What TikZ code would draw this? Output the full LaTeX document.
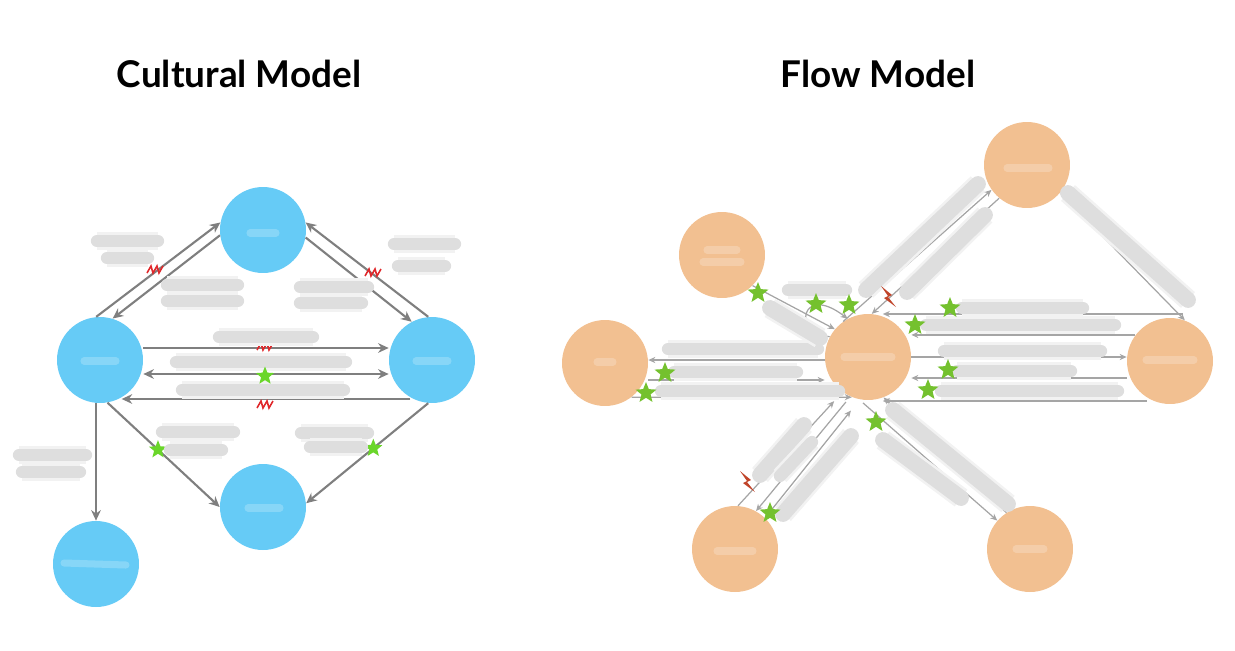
\documentclass[tikz,border=0pt]{standalone}
\usepackage{fontspec}
\setmainfont{Lato}
\usetikzlibrary{arrows.meta,shapes.geometric}
\definecolor{cblue}{HTML}{66CBF6}
\definecolor{fpeach}{HTML}{F2C091}
\definecolor{cline}{HTML}{7F7F7F}
\definecolor{fline}{HTML}{A5A5A5}
\definecolor{sgreen}{HTML}{74C12E}
\definecolor{cgreen}{HTML}{6AD62A}
\definecolor{zred}{HTML}{E0282B}
\definecolor{fbolt}{HTML}{C0442A}
\tikzset{
  cnode/.style={circle,fill=cblue,minimum size=1.72cm,inner sep=0pt},
  fnode/.style={circle,fill=fpeach,minimum size=1.72cm,inner sep=0pt},
  carrow/.style={draw=cline,line width=1.2pt,-{Stealth[length=6pt,width=5.5pt]}},
  farrow/.style={draw=fline,line width=0.7pt,-{Stealth[length=4pt,width=3.5pt]}},
  gstar/.style={star,star points=5,star point ratio=2.3,fill=sgreen,inner sep=0pt,minimum size=0.44cm},
  cstar/.style={gstar,fill=cgreen,minimum size=0.38cm},
  smudge/.style={draw=gray!26,line width=7pt,line cap=round,preaction={draw=gray!10,line width=10pt}},
  bigsmudge/.style={draw=gray!26,line width=9pt,line cap=round,preaction={draw=gray!10,line width=12pt}},
  glare/.style={draw=white,line width=4pt,line cap=round,opacity=.22},
  title/.style={font=\fontsize{21}{25}\selectfont\bfseries,anchor=base},
  zap/.pic={\draw[zred,line width=0.9pt] (-8,3) -- (-4,-4) -- (-2,3) -- (2,-4) -- (4,3) -- (8,-4);},
  bolt/.pic={\fill[fbolt] (-7,-11) -- (4,-2) -- (0,0) -- (8,10) -- (-4,1) -- (0,-1) -- cycle;}
}
\begin{document}
\begin{tikzpicture}[x=0.02cm,y=-0.02cm]
\useasboundingbox (0,0) rectangle (1235,650);

\node[title] (ctitle) at (239,87) {Cultural Model};
\node[title] (ftitle) at (878,87) {Flow Model};

\node[cnode] (ctop) at (263,230) {};
\node[cnode] (cleft) at (100,360) {};
\node[cnode] (cright) at (432,360) {};
\node[cnode] (cbottom) at (263,507) {};
\node[cnode] (cfar) at (96,564) {};

\draw[glare] (250,233) -- (276,233);
\draw[glare] (84,361) -- (116,361);
\draw[glare] (416,361) -- (448,361);
\draw[glare] (248,508) -- (280,508);
\draw[glare] (64,563) -- (126,565);

\draw[carrow] (cleft.95) -- (ctop.170);
\draw[carrow] (ctop.187) -- (cleft.73);
\draw[carrow] (cright.95) -- (ctop.10);
\draw[carrow] (ctop.350) -- (cright.118);
\draw[carrow] (cleft.east |- 0,348) -- (cright.west |- 0,348);
\draw[carrow,{Stealth[length=6pt,width=5.5pt]}-{Stealth[length=6pt,width=5.5pt]}] (cleft.east |- 0,374) -- (cright.west |- 0,374);
\draw[carrow] (cright.240 |- 0,399) -- (cleft.300 |- 0,399);
\draw[carrow] (cleft.south -| cfar.north) -- (cfar.north);
\draw[carrow] (cleft.-80) -- (cbottom.180) node[cstar,pos=.45] {};
\draw[carrow] (cright.-95) -- (cbottom.5) node[cstar,pos=.45] {};

\pic at (155,270) {zap};
\pic at (373,273) {zap};
\pic at (265,347) {zap};
\pic at (265,405) {zap};

\draw[smudge] (97,241) -- (158,241);
\draw[smudge] (107,258) -- (148,258);
\draw[smudge] (167,285) -- (238,285);
\draw[smudge] (167,301) -- (238,301);
\draw[smudge] (394,244) -- (455,244);
\draw[smudge] (398,266) -- (445,266);
\draw[smudge] (300,287) -- (368,287);
\draw[smudge] (300,303) -- (362,303);
\draw[smudge] (219,337) -- (313,337);
\draw[smudge] (176,362) -- (346,362);
\draw[smudge] (182,390) -- (344,390);
\draw[smudge] (19,455) -- (86,455);
\draw[smudge] (22,472) -- (80,472);
\draw[smudge] (162,432) -- (234,432);
\draw[smudge] (170,450) -- (222,450);
\draw[smudge] (301,433) -- (368,433);
\draw[smudge] (310,447) -- (362,447);
\node[cstar] (cmid) at (265,376) {};

\node[fnode] (ftop) at (1027,165) {};
\node[fnode] (fupper) at (722,255) {};
\node[fnode] (fleft) at (605,363) {};
\node[fnode] (fcore) at (868,357) {};
\node[fnode] (fright) at (1170,361) {};
\node[fnode] (flowl) at (735,549) {};
\node[fnode] (flowr) at (1030,549) {};
\coordinate (fin1) at (1183,314);
\coordinate (fin2) at (1147,401);

\draw[glare] (1007,168) -- (1049,168);
\draw[glare] (707,250) -- (737,250);
\draw[glare] (703,262) -- (741,262);
\draw[glare] (597,362) -- (613,362);
\draw[glare] (844,357) -- (892,357);
\draw[glare] (1146,360) -- (1194,360);
\draw[glare] (717,551) -- (753,551);
\draw[glare] (1016,549) -- (1044,549);

\draw[farrow] (fcore.west |- 0,360) -- (fleft.east |- 0,360);
\draw[farrow] (fleft.east |- 0,380) -- (fcore.west |- 0,380);
\draw[farrow] (fleft.-52) -- (fcore.-112);
\draw[farrow] (fupper.-45) -- (fcore.140);
\draw[farrow] (fcore.152) .. controls (792,336) and (800,282) .. (fcore.118);
\draw[farrow] (fcore.125) -- (ftop.215);
\draw[farrow] (ftop.230) -- (fcore.85);
\draw[farrow] (ftop.-40) -- (fright.70);
\draw[farrow] (fin1) -- (fcore.70 |- fin1);
\draw[farrow] (fright.143) -- (fcore.east |- fright.143);
\draw[farrow] (fcore.east) -- (fright.west |- fcore.east);
\draw[farrow] (fright.west |- 0,378) -- (fcore.east |- 0,378);
\draw[farrow] (fin2) -- (fcore.-70 |- fin2);
\draw[farrow,shorten >=7pt] (flowl.86) -- (fcore.234);
\draw[farrow,shorten <=4pt] (fcore.246) -- (flowl.61);
\draw[farrow,shorten >=8pt] (flowl.46) -- (fcore.259);
\draw[farrow,shorten <=3pt] (fcore.258) -- (flowr.139);
\draw[farrow] (flowr.123) -- (fcore.-69);

\draw[smudge] (668,349) -- (818,349);
\draw[smudge] (674,372) -- (797,372);
\draw[smudge] (661,391) -- (839,391);
\draw[bigsmudge] (770,308) -- (820,338);
\draw[smudge] (788,290) -- (846,290);
\draw[bigsmudge] (978,184) -- (866,290);
\draw[bigsmudge] (985,215) -- (907,292);
\draw[bigsmudge] (1068,193) -- (1188,300);
\draw[smudge] (962,308) -- (1083,308);
\draw[smudge] (926,325) -- (1115,325);
\draw[smudge] (944,351) -- (1101,351);
\draw[smudge] (957,371) -- (1071,371);
\draw[smudge] (941,391) -- (1118,391);
\draw[bigsmudge] (760,475) -- (804,425);
\draw[smudge] (780,476) -- (812,442);
\draw[bigsmudge] (783,514) -- (851,436);
\draw[bigsmudge] (883,440) -- (961,498);
\draw[bigsmudge] (893,410) -- (1008,504);

\node[gstar] (s1) at (758,293) {};
\node[gstar] (s2) at (816,304) {};
\node[gstar] (s3) at (849,305) {};
\node[gstar] (s4) at (950,308) {};
\node[gstar] (s5) at (915,325) {};
\node[gstar] (s6) at (948,370) {};
\node[gstar] (s7) at (928,390) {};
\node[gstar] (s8) at (665,373) {};
\node[gstar] (s9) at (646,393) {};
\node[gstar] (s10) at (770,513) {};
\node[gstar] (s11) at (876,422) {};

\pic at (888,297) {bolt};
\pic at (747,482) {bolt};
\end{tikzpicture}
\end{document}
